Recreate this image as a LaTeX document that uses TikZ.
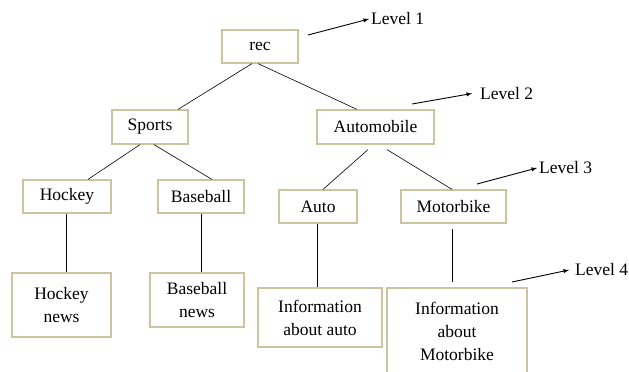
\documentclass[tikz,border=0pt]{standalone}
\usepackage{fontspec}
\setmainfont{Liberation Serif}
\usepackage{tikz}
\usetikzlibrary{calc}
\definecolor{boxtan}{RGB}{204,196,160}

\begin{document}
\begin{tikzpicture}[x=1pt,y=-1pt,
    box/.style={draw=boxtan, line width=1.2pt, inner sep=0pt, align=center,
                font=\rmfamily\fontsize{17.5}{23}\selectfont},
    lvl/.style={inner sep=2pt, anchor=west, font=\rmfamily\fontsize{17.5}{21}\selectfont},
    lvarrow/.style={-latex, line width=0.9pt}]
            \useasboundingbox (0,0) rectangle (629,372);

            % level 1
            \node (rec) at (260,46.5) [box, minimum width=76pt, minimum height=33pt] {rec};

            % level 2
            \node (sports) at (150,127) [box, minimum width=76pt, minimum height=34pt] {Sports};
            \node (automobile) at (375.5,127) [box, minimum width=117pt, minimum height=34pt] {Automobile};

            % level 3
            \node (hockey) at (67,196.5) [box, minimum width=88pt, minimum height=33pt] {Hockey};
            \node (baseball) at (201,196.5) [box, minimum width=86pt, minimum height=33pt] {Baseball};
            \node (auto) at (318,206.5) [box, minimum width=78pt, minimum height=33pt] {Auto};
            \node (motorbike) at (453.5,206.5) [box, minimum width=105pt, minimum height=33pt] {Motorbike};

            % level 4
            \node (hnews) at (61.5,305) [box, minimum width=99pt, minimum height=64pt] {Hockey\\news};
            \node (bnews) at (197,300) [box, minimum width=94pt, minimum height=54pt] {Baseball\\news};
            \node (iauto) at (320,317.5) [box, minimum width=124pt, minimum height=59pt] {Information\\about auto};
            \node (imoto) at (457,331.5) [box, minimum width=140pt, minimum height=87pt] {Information\\about\\Motorbike};

            % level labels
            \node (lv1) at (369,19) [lvl] {Level 1};
            \node (lv2) at (478,93.5) [lvl] {Level 2};
            \node (lv3) at (537,168) [lvl] {Level 3};
            \node (lv4) at (573,270) [lvl] {Level 4};
            \coordinate (s1) at (308,35);
            \coordinate (s2) at (412,104);
            \coordinate (s3) at (477,184);
            \coordinate (s4) at (512,282);

            \draw[semithick]
            ([xshift=-8pt]rec.south) to ([xshift=28pt]sports.north)
            ([xshift=-2pt]rec.south) to ([xshift=-18.5pt]automobile.north)
            ([xshift=-10pt]sports.south) to ([xshift=21pt]hockey.north)
            ([xshift=4pt]sports.south) to ([xshift=11pt]baseball.north)
            ([xshift=-7.5pt,yshift=-5pt]automobile.south) to ([xshift=5pt]auto.north)
            ([xshift=11.5pt,yshift=-5pt]automobile.south) to ([xshift=-1.5pt]motorbike.north);

            \draw[semithick, shorten <=5pt, shorten >=5pt]
            ([xshift=-1pt]hockey.south) to ([xshift=-1pt]hockey.south |- hnews.north)
            (baseball.south) to (baseball.south |- bnews.north)
            ([xshift=-1pt]auto.south) to ([xshift=-1pt]auto.south |- iauto.north)
            ([xshift=-1.5pt]motorbike.south) to ([xshift=-1.5pt]motorbike.south |- imoto.north);

            \draw[lvarrow] (s1) to (lv1.west);
            \draw[lvarrow] (s2) to ([xshift=-6pt]lv2.west);
            \draw[lvarrow] (s3) to (lv3.west);
            \draw[lvarrow] (s4) to ([xshift=-4pt]lv4.west);
          \end{tikzpicture}
\end{document}
